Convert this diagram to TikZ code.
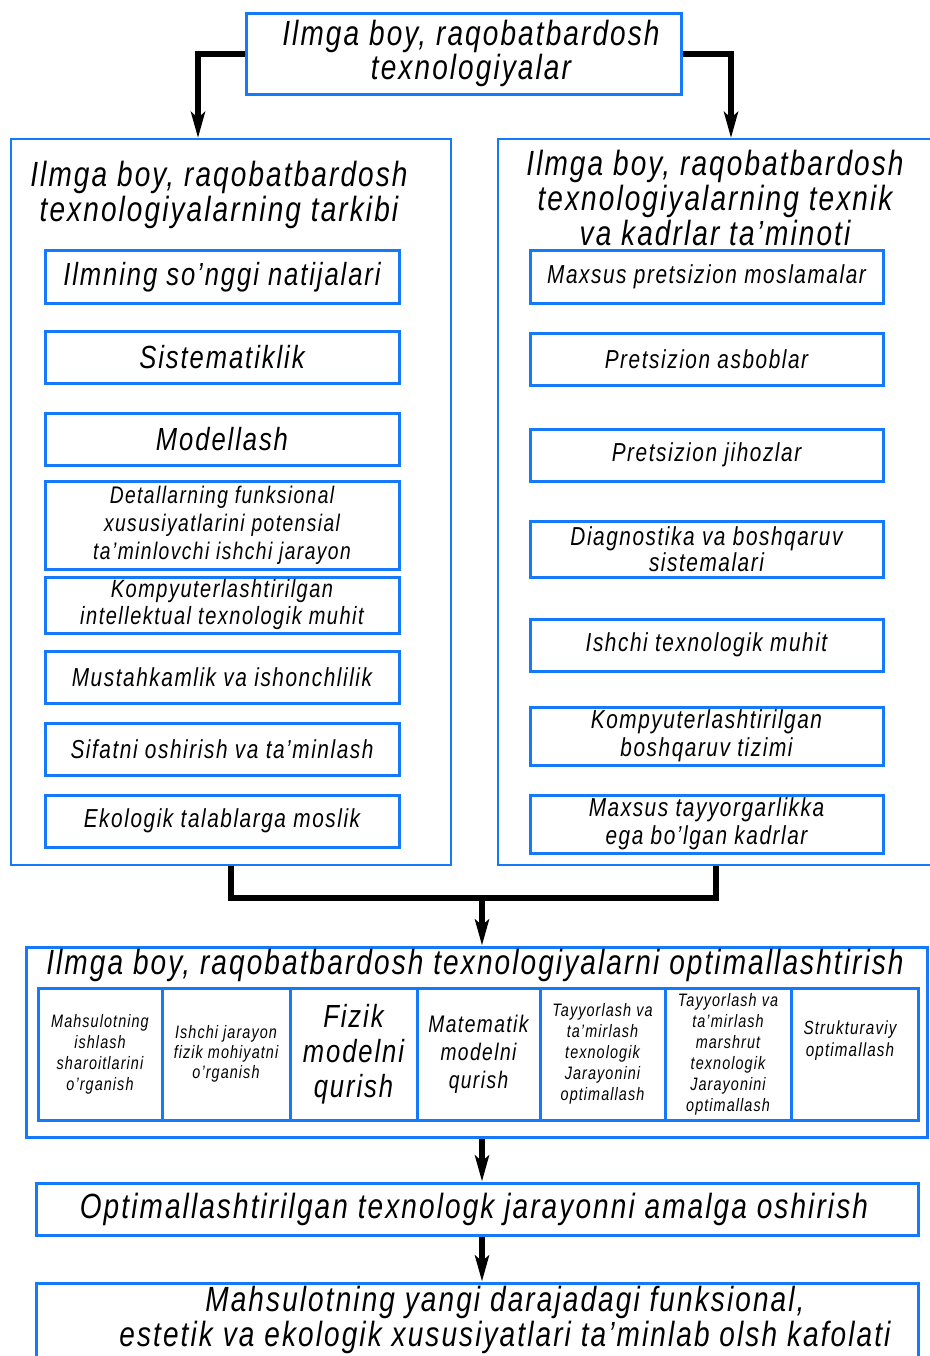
\documentclass[tikz,border=0pt]{standalone}
\usepackage{fontspec}
\setmainfont{Liberation Sans}[FakeStretch=0.8, LetterSpace=6]
\usetikzlibrary{arrows.meta}
\definecolor{bblue}{RGB}{20,122,250}
\newcommand{\fs}[2]{\fontsize{#1}{#2}\selectfont\itshape}
\tikzset{
  bx/.style={draw=bblue, line width=3pt, inner sep=0pt, align=center},
  lbx/.style={bx, minimum width=354pt},
  rbx/.style={bx, minimum width=353pt},
  big/.style={draw=bblue, line width=2pt, inner sep=0pt},
  cell/.style={draw=bblue, line width=3pt, inner sep=0pt, align=center, minimum height=132pt},
  txt/.style={align=center, inner sep=0pt},
  arr/.style={line width=6pt, -{Stealth[length=26pt,width=14pt,inset=6pt]}},
  ln/.style={line width=6pt},
}
\begin{document}
\begin{tikzpicture}[x=1pt,y=-1pt]
\useasboundingbox (0,0) rectangle (929,1356);
% top
\node[bx, minimum width=435pt, minimum height=81pt] (top) at (463.5,54.5) {};
\node[txt, font=\fs{35}{34}] (toptxt) at (471,53) {Ilmga boy, raqobatbardosh\\texnologiyalar};
% big boxes
\node[big, minimum width=440pt, minimum height=726pt] (L) at (231,502) {};
\node[big, minimum width=447pt, minimum height=726pt] (R) at (721.5,502) {};
\node[txt, font=\fs{35}{35}] (Lt) at (219,194.5) {Ilmga boy, raqobatbardosh\\texnologiyalarning tarkibi};
\node[txt, font=\fs{35}{35}] (Rt) at (715,198) {Ilmga boy, raqobatbardosh\\texnologiyalarning texnik\\va kadrlar ta'minoti};
% left inner
\node[lbx, minimum height=52pt, font=\fs{32}{32}] (l1) at (222,277) {Ilmning so'nggi natijalari};
\node[lbx, minimum height=52pt, font=\fs{32}{32}] (l2) at (222,357) {Sistematiklik};
\node[lbx, minimum height=52pt, font=\fs{32}{32}] (l3) at (222,439) {Modellash};
\node[lbx, minimum height=88pt, font=\fs{24}{28}] (l4) at (222,525) {Detallarning funksional\\xususiyatlarini potensial\\ta'minlovchi ishchi jarayon};
\node[lbx, minimum height=56pt, font=\fs{25}{27}] (l5) at (222,605) {Kompyuterlashtirilgan\\intellektual texnologik muhit};
\node[lbx, minimum height=52pt, font=\fs{26}{26}] (l6) at (222,677) {Mustahkamlik va ishonchlilik};
\node[lbx, minimum height=52pt, font=\fs{26}{26}] (l7) at (222,749) {Sifatni oshirish va ta'minlash};
\node[lbx, minimum height=52pt, font=\fs{26}{26}] (l8) at (222,821) {Ekologik talablarga moslik};
% right inner
\node[rbx, minimum height=52pt, font=\fs{26}{26}] (r1) at (706.5,277) {Maxsus pretsizion moslamalar};
\node[rbx, minimum height=52pt, font=\fs{26}{26}] (r2) at (706.5,359) {Pretsizion asboblar};
\node[rbx, minimum height=52pt, font=\fs{26}{26}] (r3) at (706.5,455) {Pretsizion jihozlar};
\node[rbx, minimum height=56pt, font=\fs{26}{26}] (r4) at (706.5,549) {Diagnostika va boshqaruv\\sistemalari};
\node[rbx, minimum height=52pt, font=\fs{26}{26}] (r5) at (706.5,645) {Ishchi texnologik muhit};
\node[rbx, minimum height=58pt, font=\fs{26}{28}] (r6) at (706.5,736) {Kompyuterlashtirilgan\\boshqaruv tizimi};
\node[rbx, minimum height=58pt, font=\fs{26}{28}] (r7) at (706.5,824) {Maxsus tayyorgarlikka\\ega bo'lgan kadrlar};
% optimisation block
\node[bx, minimum width=901pt, minimum height=190pt] (O) at (476.5,1042) {};
\node[txt, font=\fs{35}{35}] (Ot) at (475,965) {Ilmga boy, raqobatbardosh texnologiyalarni optimallashtirish};
\node[cell, minimum width=124pt, font=\fs{18}{21}] (c1) at (100,1054) {Mahsulotning\\ishlash\\sharoitlarini\\o'rganish};
\node[cell, minimum width=128pt, font=\fs{18}{20}] (c2) at (226,1054) {Ishchi jarayon\\fizik mohiyatni\\o'rganish};
\node[cell, minimum width=127pt, font=\fs{32}{35}] (c3) at (353.5,1054) {Fizik\\modelni\\qurish};
\node[cell, minimum width=123pt, font=\fs{24}{28}] (c4) at (478.5,1054) {Matematik\\modelni\\qurish};
\node[cell, minimum width=125pt, font=\fs{18}{21}] (c5) at (602.5,1054) {Tayyorlash va\\ta'mirlash\\texnologik\\Jarayonini\\optimallash};
\node[cell, minimum width=126pt, font=\fs{18}{21}] (c6) at (728,1054) {Tayyorlash va\\ta'mirlash\\marshrut\\texnologik\\Jarayonini\\optimallash};
\node[cell, minimum width=127pt] (c7) at (854.5,1054) {};
\node[txt, font=\fs{19}{22}] (c7t) at (850,1041) {Strukturaviy\\optimallash};
% lower boxes
\node[bx, minimum width=882pt, minimum height=52pt] (P) at (477,1209) {};
\node[txt, font=\fs{35}{35}] (Pt) at (474,1209) {Optimallashtirilgan texnologk jarayonni amalga oshirish};
\node[bx, minimum width=882pt, minimum height=100pt] (Q) at (477,1333) {};
\node[txt, font=\fs{35}{35}] (Qt) at (505,1320) {Mahsulotning yangi darajadagi funksional,\\estetik va ekologik xususiyatlari ta'minlab olsh kafolati};
% connectors
\draw[arr] (top.west) -| ([xshift=-33pt]L.north);
\draw[arr] (top.east) -| ([xshift=9.5pt]R.north);
\coordinate (m) at (482,898);
\draw[ln] (L.south) |- (m) -| ([xshift=-5.5pt]R.south);
\draw[arr] (m) -- (m |- O.north);
\draw[arr] (m |- O.south) -- (m |- P.north);
\draw[arr] (m |- P.south) -- (m |- Q.north);
\end{tikzpicture}
\end{document}
